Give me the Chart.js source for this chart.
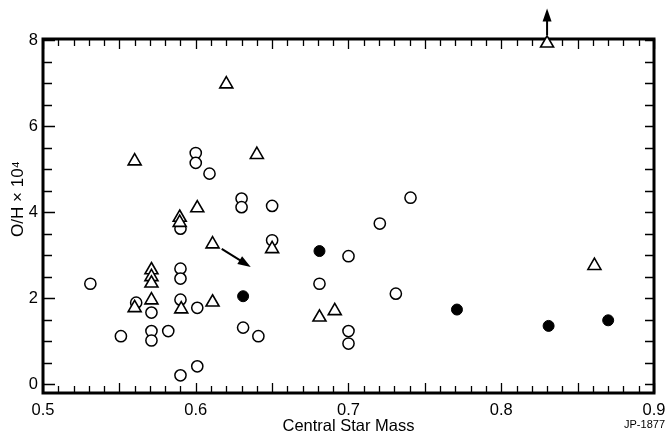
<!DOCTYPE html>
<html><head><meta charset="utf-8">
<script src="https://cdn.jsdelivr.net/npm/chart.js@4.4.1/dist/chart.umd.min.js"></script>
<style>html,body{margin:0;padding:0;background:#fff}#wrap{width:668px;height:436px}</style>
</head><body><div id="wrap"><canvas id="c" width="668" height="436"></canvas></div>
<script>
// ---- data ----
const openCircleMass = [0.531,0.551,0.561,0.571,0.571,0.571,0.582,0.590,0.590,0.590,0.590,0.590,0.600,0.600,0.601,0.601,0.609,0.630,0.630,0.631,0.641,0.650,0.650,0.681,0.700,0.700,0.700,0.7205,0.731,0.7406];
const openCircleOH   = [2.34, 1.12, 1.90, 1.67, 1.24, 1.02, 1.24, 3.62, 2.69, 2.46, 1.97, 0.21, 5.38, 5.15, 1.78, 0.42, 4.90, 4.32, 4.12, 1.32, 1.12, 4.15, 3.35, 2.34, 2.98, 1.24, 0.95, 3.74, 2.11, 4.34];
const triangleMass = [0.620,0.560,0.640,0.601,0.5895,0.5895,0.611,0.650,0.611,0.5905,0.571,0.571,0.571,0.571,0.560,0.681,0.691,0.861,0.830];
const triangleOH   = [6.98, 5.19, 5.34, 4.10, 3.88,  3.76,  3.26, 3.15, 1.91, 1.75,  2.66, 2.50, 2.35, 1.96, 1.78, 1.56, 1.71, 2.76, 7.93];
const filledMass = [0.631,0.681,0.771,0.831,0.870];
const filledOH   = [2.05, 3.10, 1.74, 1.36, 1.49];
const xTickValues = [0.5,0.6,0.7,0.8,0.9];
const yTickValues = [0,2,4,6,8];
const arrowFrom = [[0.6170,3.15],[0.830,8.12]];
const arrowTo   = [[0.6360,2.73],[0.830,8.74]];

const FONT = "'Liberation Sans', Arial, Helvetica, sans-serif";
Chart.defaults.font.family = FONT;
Chart.defaults.color = '#000';

const toPts = (xs, ys) => xs.map((x, i) => ({x: x, y: ys[i]}));

const framePlugin = {
  id: 'frame',
  beforeDatasetsDraw(chart) {
    const {ctx, chartArea: a, scales} = chart;
    const xs = scales.x, ys = scales.y;
    ctx.save();
    ctx.strokeStyle = '#000';
    ctx.lineWidth = 1.3;
    ctx.beginPath();
    for (let k = 50; k <= 90; k++) {
      const px = Math.round(xs.getPixelForValue(k / 100)) + 0.5;
      const len = (k % 5 === 0) ? 10 : 7;
      ctx.moveTo(px, a.bottom); ctx.lineTo(px, a.bottom - len);
      ctx.moveTo(px, a.top); ctx.lineTo(px, a.top + len);
    }
    for (let k = 0; k <= 16; k++) {
      const v = k / 2;
      const py = Math.round(ys.getPixelForValue(v)) + 0.5;
      const lenL = (k % 4 === 0) ? 12 : 9;
      ctx.moveTo(a.left, py); ctx.lineTo(a.left + lenL, py);
      ctx.moveTo(a.right, py); ctx.lineTo(a.right - 9, py);
    }
    ctx.stroke();
    ctx.lineWidth = 3;
    ctx.strokeRect(a.left, a.top, a.right - a.left, a.bottom - a.top);
    ctx.restore();
  },
  afterDatasetsDraw(chart) {
    const {ctx, scales} = chart;
    const xs = scales.x, ys = scales.y;
    ctx.save();
    ctx.strokeStyle = '#000';
    ctx.fillStyle = '#000';
    ctx.lineWidth = 2;
    arrowFrom.forEach((f, i) => {
      const t = arrowTo[i];
      const x1 = xs.getPixelForValue(f[0]), y1 = ys.getPixelForValue(f[1]);
      const x2 = xs.getPixelForValue(t[0]), y2 = ys.getPixelForValue(t[1]);
      const ang = Math.atan2(y2 - y1, x2 - x1);
      const hl = 13, hw = 4.5;
      const bx = x2 - hl * Math.cos(ang), by = y2 - hl * Math.sin(ang);
      ctx.beginPath(); ctx.moveTo(x1, y1); ctx.lineTo(bx + 2 * Math.cos(ang), by + 2 * Math.sin(ang)); ctx.stroke();
      ctx.beginPath();
      ctx.moveTo(x2, y2);
      ctx.lineTo(bx + hw * Math.sin(ang), by - hw * Math.cos(ang));
      ctx.lineTo(bx - hw * Math.sin(ang), by + hw * Math.cos(ang));
      ctx.closePath(); ctx.fill();
    });
    ctx.restore();
  },
  afterDraw(chart) {
    const ctx = chart.ctx;
    ctx.save();
    ctx.fillStyle = '#000';
    ctx.font = "11px " + FONT;
    ctx.textAlign = 'right';
    ctx.textBaseline = 'middle';
    ctx.fillText('JP-1877', 665, 425);
    ctx.restore();
  }
};

const tickFont = {family: FONT, size: 16.5};
const yTitleFont = {family: FONT, size: 17};
const fitH = h => s => { s.height = h; s.paddingLeft = 0; s.paddingRight = 0; };
const fitW = w => s => { s.width = w; s.paddingTop = 0; s.paddingBottom = 0; };

new Chart(document.getElementById('c'), {
  type: 'scatter',
  data: {
    datasets: [
      {label: 'triangles', data: toPts(triangleMass, triangleOH), pointStyle: 'triangle', pointRadius: 7.5,
       backgroundColor: '#fff', borderColor: '#000', borderWidth: 1.6, clip: false, order: 0},
      {label: 'filled', data: toPts(filledMass, filledOH), pointStyle: 'circle', pointRadius: 5.5,
       backgroundColor: '#000', borderColor: '#000', borderWidth: 1, clip: false, order: 1},
      {label: 'open', data: toPts(openCircleMass, openCircleOH), pointStyle: 'circle', pointRadius: 5.6,
       backgroundColor: '#fff', borderColor: '#000', borderWidth: 1.5, clip: false, order: 2}
    ]
  },
  options: {
    responsive: false,
    animation: false,
    devicePixelRatio: 1,
    layout: {padding: 0},
    plugins: {legend: {display: false}, tooltip: {enabled: false}},
    elements: {point: {hoverRadius: 5.5}},
    scales: {
      x: {
        type: 'linear', position: 'bottom', min: 0.5, max: 0.9,
        afterBuildTicks: s => { s.ticks = xTickValues.map(v => ({value: v})); },
        afterFit: fitH(43),
        ticks: {callback: v => Number(v).toFixed(1), font: tickFont, color: '#000', padding: 8, maxRotation: 0, autoSkip: false},
        grid: {display: false, drawTicks: false},
        border: {display: false},
        title: {display: true, text: 'Central Star Mass', font: tickFont, color: '#000', padding: {top: 0, bottom: 0}}
      },
      x2: {
        type: 'linear', position: 'top', min: 0.5, max: 0.9,
        afterFit: fitH(39),
        ticks: {display: false}, grid: {display: false, drawTicks: false}, border: {display: false}
      },
      y: {
        type: 'linear', position: 'left', min: -0.2, max: 8.03,
        afterBuildTicks: s => { s.ticks = yTickValues.map(v => ({value: v})); },
        afterFit: fitW(43),
        ticks: {font: tickFont, color: '#000', padding: 5, autoSkip: false},
        grid: {display: false, drawTicks: false},
        border: {display: false},
        title: {display: true, text: '\u2002\u2002\u2002\u2002O/H \u00d7 10\u2074', font: yTitleFont, color: '#000', padding: {top: 8, bottom: 0}}
      },
      y2: {
        type: 'linear', position: 'right', min: -0.2, max: 8.03,
        afterFit: fitW(14),
        ticks: {display: false}, grid: {display: false, drawTicks: false}, border: {display: false}
      }
    }
  },
  plugins: [framePlugin]
});
</script>
</body></html>
